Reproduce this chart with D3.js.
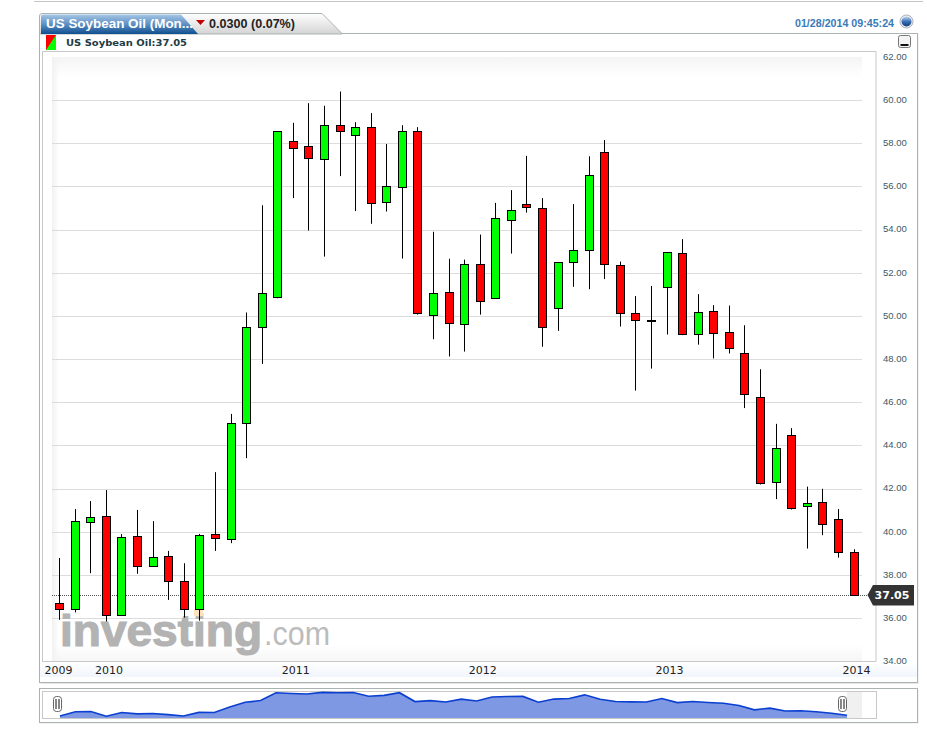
<!DOCTYPE html>
<html>
<head>
<meta charset="utf-8">
<title>US Soybean Oil (Monthly)</title>
<script src="https://d3js.org/d3.v7.min.js"></script>
<style>
    html, body { margin: 0; padding: 0; background: #fff; }
    svg { display: block; }
    text { font-family: "Liberation Sans", Arial, sans-serif; }
    .price text { font-size: 9.5px; fill: #3b5a66; }
    .dates text { font-family: "DejaVu Sans", sans-serif; font-size: 11px; fill: #222; }
    .grid line { stroke: #dcdcdc; }
</style>
</head>
<body>
<script>
// monthly candles, Oct 2009 - Jan 2014
const months = ["2009-10","2009-11","2009-12",
    "2010-01","2010-02","2010-03","2010-04","2010-05","2010-06","2010-07","2010-08","2010-09","2010-10","2010-11","2010-12",
    "2011-01","2011-02","2011-03","2011-04","2011-05","2011-06","2011-07","2011-08","2011-09","2011-10","2011-11","2011-12",
    "2012-01","2012-02","2012-03","2012-04","2012-05","2012-06","2012-07","2012-08","2012-09","2012-10","2012-11","2012-12",
    "2013-01","2013-02","2013-03","2013-04","2013-05","2013-06","2013-07","2013-08","2013-09","2013-10","2013-11","2013-12",
    "2014-01"];
const opens = [36.69,36.41,40.44,40.72,36.12,39.80,38.41,38.87,37.71,36.41,39.89,39.68,45.03,49.48,50.90,
    58.10,57.87,57.27,58.84,58.38,58.75,55.27,55.97,58.56,50.04,51.10,49.62,
    52.40,50.82,54.44,55.18,55.00,50.36,52.49,53.05,57.59,52.35,50.13,49.81,
    51.33,52.91,49.16,50.22,49.25,48.28,46.24,42.30,44.48,41.17,41.37,40.58,39.05];
const highs = [38.78,41.05,41.42,41.93,39.89,41.01,40.49,39.11,38.54,39.90,42.76,45.46,50.16,55.13,58.56,
    58.95,59.86,59.74,60.40,58.98,59.40,57.97,58.84,58.75,53.90,52.65,52.61,
    53.77,55.24,55.83,57.42,55.46,52.49,55.18,57.40,58.15,52.52,50.92,51.39,
    52.96,53.56,51.01,50.50,50.48,49.57,47.53,45.00,44.80,42.09,41.99,41.05,39.19];
const lows = [35.92,36.26,38.08,35.84,36.12,38.05,38.41,36.84,36.02,35.88,39.11,39.47,43.41,47.78,50.82,
    55.46,53.96,52.75,56.48,54.86,54.27,54.84,52.66,50.06,48.92,48.12,48.35,
    50.06,50.82,52.89,54.79,48.57,49.31,51.35,51.24,51.71,49.51,46.54,47.56,
    49.14,49.11,48.67,48.03,48.26,45.73,42.19,41.51,41.03,39.22,39.84,38.80,37.05];
const closes = [36.41,40.49,40.68,36.12,39.75,38.41,38.82,37.71,36.41,39.84,39.73,45.03,49.48,51.06,58.56,
    57.78,57.31,58.84,58.56,58.75,55.23,56.01,58.56,50.13,51.06,49.67,52.40,
    50.69,54.53,54.90,55.04,49.48,52.49,53.05,56.52,52.40,50.13,49.81,49.76,
    52.96,49.16,50.18,49.20,48.51,46.38,42.25,43.87,41.09,41.33,40.38,39.05,37.05];
const priceTicks = [34,36,38,40,42,44,46,48,50,52,54,56,58,60,62];
const gridTicks = [36,38,40,42,44,46,48,50,52,54,56,58,60];
const yearTicks = ["2009-10","2010-01","2011-01","2012-01","2013-01","2014-01"];
const yearLabels = ["2009","2010","2011","2012","2013","2014"];
const lastPrice = 37.05;

const upColor = "#00ff00", downColor = "#ff0000";

const svg = d3.select("body").append("svg").attr("width", 927).attr("height", 741);
const defs = svg.append("defs");

function gradient(id, x2, y2, stops) {
    const g = defs.append("linearGradient").attr("id", id)
        .attr("x1", 0).attr("y1", 0).attr("x2", x2).attr("y2", y2);
    stops.forEach(s => g.append("stop").attr("offset", s[0]).attr("stop-color", s[1]));
}
gradient("tabGrey", 0, 1, [[0, "#ffffff"], [1, "#d4d4d4"]]);
gradient("tabBlue", 0, 1, [[0, "#a5c5e4"], [0.5, "#5e90c4"], [1, "#0e4e8e"]]);
gradient("topFade", 0, 1, [[0, "#f4f4f4"], [1, "#ffffff"]]);
gradient("bottomFade", 0, 1, [[0, "#ffffff"], [1, "#f6f6f6"]]);
gradient("leftFade", 1, 0, [[0, "#f2f2f2"], [1, "rgba(242,242,242,0)"]]);
gradient("dateBand", 0, 1, [[0, "#ffffff"], [1, "#f1f5fc"]]);
gradient("globe", 0, 1, [[0, "#c4d8f0"], [0.5, "#3a72b8"], [1, "#123a78"]]);

// page rule and top bar
svg.append("line").attr("x1", 34).attr("x2", 923).attr("y1", 1.5).attr("y2", 1.5).attr("stroke", "#c4c4c4");

svg.append("rect").attr("x", 40.5).attr("y", 34.5).attr("width", 878).attr("height", 649.5)
    .attr("fill", "#e6e8e8");
svg.append("rect").attr("x", 39.5).attr("y", 33.5).attr("width", 878).attr("height", 649)
    .attr("fill", "#fff").attr("stroke", "#aab2b2");

// tab
svg.append("path").attr("d", "M39.5,34V16Q39.5,13.5 42,13.5H322L342,33.5V34Z")
    .attr("fill", "url(#tabGrey)").attr("stroke", "#aab2b2");
svg.append("path").attr("d", "M41,34V16Q41,14.5 43,14.5H181L198,34Z").attr("fill", "url(#tabBlue)");
svg.append("text").attr("x", 46).attr("y", 28).attr("fill", "#fff")
    .attr("font-size", 13).attr("font-weight", "bold").attr("textLength", 147).attr("lengthAdjust", "spacingAndGlyphs")
    .text("US Soybean Oil (Mon...");
svg.append("path").attr("d", "M196,20H205L200.5,25Z").attr("fill", "#c00000");
svg.append("text").attr("x", 209).attr("y", 28).attr("fill", "#222")
    .attr("font-size", 12.5).attr("font-weight", "bold").attr("textLength", 86).attr("lengthAdjust", "spacingAndGlyphs")
    .text("0.0300 (0.07%)");

svg.append("text").attr("x", 894).attr("y", 26.5).attr("text-anchor", "end").attr("fill", "#3a7ab8")
    .attr("font-size", 10.5).attr("font-weight", "bold").attr("textLength", 99).attr("lengthAdjust", "spacingAndGlyphs")
    .text("01/28/2014 09:45:24");
svg.append("circle").attr("cx", 906.5).attr("cy", 21.5).attr("r", 6.5).attr("fill", "#eef0f3").attr("stroke", "#a9b0ba");
svg.append("circle").attr("cx", 906.5).attr("cy", 21.5).attr("r", 5).attr("fill", "url(#globe)");

// minimise button
svg.append("rect").attr("x", 898.5).attr("y", 35.5).attr("width", 12).attr("height", 12).attr("rx", 2)
    .attr("fill", "#f4f4f4").attr("stroke", "#777");
svg.append("rect").attr("x", 900.5).attr("y", 44).attr("width", 8).attr("height", 2).attr("fill", "#111");

// legend
svg.append("rect").attr("x", 46).attr("y", 35).attr("width", 10).attr("height", 15).attr("fill", upColor);
svg.append("path").attr("d", "M46,35H56L46,50Z").attr("fill", downColor);
svg.append("text").attr("x", 66).attr("y", 46).attr("fill", "#1d3b44")
    .style("font-family", '"DejaVu Sans", sans-serif').attr("font-size", 9.5).attr("font-weight", "bold")
    .attr("textLength", 121).attr("lengthAdjust", "spacingAndGlyphs")
    .text("US Soybean Oil:37.05");

// date band and chart frame
svg.append("rect").attr("x", 40).attr("y", 662).attr("width", 877).attr("height", 15).attr("fill", "url(#dateBand)");
svg.append("path").attr("d", "M42.5,661.5V51.5H876V661.5H42.5").attr("fill", "#fff").attr("stroke", "#c8c8c8");

// scales
const x = d3.scalePoint().domain(months).range([59.7, 854]);
const y = d3.scaleLinear().domain([34, 62]).range([661.2, 57]);

// plot background
svg.append("rect").attr("x", 52).attr("y", 57).attr("width", 810).attr("height", 20).attr("fill", "url(#topFade)");
svg.append("rect").attr("x", 52).attr("y", 645).attr("width", 810).attr("height", 16).attr("fill", "url(#bottomFade)");
svg.append("rect").attr("x", 52).attr("y", 57).attr("width", 7).attr("height", 604).attr("fill", "url(#leftFade)");

// gridlines
svg.append("g").attr("class", "grid").selectAll("line").data(gridTicks).join("line")
    .attr("x1", 52).attr("x2", 862)
    .attr("y1", d => Math.round(y(d)) + 0.5).attr("y2", d => Math.round(y(d)) + 0.5);

// watermark, sits under the candles
svg.append("text").attr("x", 60).attr("y", 646).attr("fill", "#b3b3b3").attr("stroke", "#b3b3b3").attr("stroke-width", 1.2)
    .attr("font-size", 44).attr("font-weight", "bold").attr("textLength", 202).attr("lengthAdjust", "spacingAndGlyphs")
    .text("investing");
svg.append("text").attr("x", 264).attr("y", 645).attr("fill", "#bcbcbc")
    .attr("font-size", 33).attr("textLength", 66).attr("lengthAdjust", "spacingAndGlyphs")
    .text(".com");

// last price dotted line
svg.append("line").attr("x1", 52).attr("x2", 868)
    .attr("y1", Math.round(y(lastPrice)) + 0.5).attr("y2", Math.round(y(lastPrice)) + 0.5)
    .attr("stroke", "#555").attr("stroke-dasharray", "1,1");

// pale smudge under the Jul 2010 candle in the original screenshot
const cx = i => Math.floor(x(months[i]));
svg.append("rect").attr("x", cx(9) - 5).attr("y", y(36.41)).attr("width", 9).attr("height", 7).attr("fill", "#fde3c0");

// candles
const candles = svg.append("g").selectAll("g").data(months).join("g");
candles.append("line")
    .attr("x1", (d, i) => cx(i) + 0.5).attr("x2", (d, i) => cx(i) + 0.5)
    .attr("y1", (d, i) => y(highs[i])).attr("y2", (d, i) => y(lows[i]))
    .attr("stroke", "#000");
candles.append("rect")
    .attr("x", (d, i) => cx(i) - 3.5).attr("width", 8)
    .attr("y", (d, i) => Math.round(y(Math.max(opens[i], closes[i]))) + 0.5)
    .attr("height", (d, i) => Math.max(1, Math.round(y(Math.min(opens[i], closes[i]))) - Math.round(y(Math.max(opens[i], closes[i])))))
    .attr("fill", (d, i) => closes[i] >= opens[i] ? upColor : downColor)
    .attr("stroke", "#000");

// price axis
const priceAxis = d3.axisRight(y).tickValues(priceTicks).tickFormat(d3.format(".2f")).tickSize(0).tickPadding(0);
svg.append("g").attr("class", "price").attr("transform", "translate(883,-0.7)").call(priceAxis)
    .call(g => g.select(".domain").remove());

// last price tag
const tagY = Math.round(y(lastPrice));
svg.append("path")
    .attr("d", d3.line()([[867.5, tagY], [873, tagY - 10], [914, tagY - 10], [914, tagY + 10.5], [873, tagY + 10.5]]) + "Z")
    .attr("fill", "#333");
svg.append("text").attr("x", 892).attr("y", tagY + 4).attr("text-anchor", "middle").attr("fill", "#fff")
    .attr("font-size", 11).attr("font-weight", "bold").style("font-family", '"DejaVu Sans", sans-serif')
    .text(lastPrice.toFixed(2));

// year labels
const dateAxis = d3.axisBottom(x).tickValues(yearTicks).tickFormat((d, i) => yearLabels[i]).tickSize(0).tickPadding(0);
svg.append("g").attr("class", "dates").attr("transform", "translate(2,666)").call(dateAxis)
    .call(g => g.select(".domain").remove())
    .call(g => g.select(".tick text").attr("dx", -3.7));

// overview strip
svg.append("rect").attr("x", 40.5).attr("y", 690).attr("width", 878).attr("height", 33.5).attr("fill", "#e6e8e8");
svg.append("rect").attr("x", 39.5).attr("y", 688.5).attr("width", 878).attr("height", 34)
    .attr("fill", "#fff").attr("stroke", "#aab2b2");
svg.append("rect").attr("x", 42.5).attr("y", 691.5).attr("width", 834).attr("height", 27)
    .attr("fill", "#fff").attr("stroke", "#c8c8c8");
svg.append("rect").attr("x", 847).attr("y", 692).attr("width", 15).attr("height", 26).attr("fill", "#f0f0f0");

const ox = d3.scalePoint().domain(months).range([60, 847]);
const oy = d3.scaleLinear().domain([34, 60]).range([718.5, 691.2]);
svg.append("path")
    .attr("d", d3.area().x((d, i) => ox(months[i])).y0(718).y1(d => oy(d))(closes))
    .attr("fill", "#7f98e4");
svg.append("path")
    .attr("d", d3.line().x((d, i) => ox(months[i])).y(d => oy(d))(closes))
    .attr("fill", "none").attr("stroke", "#0a3fd0").attr("stroke-width", 1.6);

[57.5, 842.5].forEach(hx => {
    svg.append("rect").attr("x", hx - 4).attr("y", 696.5).attr("width", 8).attr("height", 15).attr("rx", 3)
        .attr("fill", "#fff").attr("stroke", "#666");
    svg.append("rect").attr("x", hx - 2).attr("y", 699).attr("width", 1).attr("height", 10).attr("fill", "#111");
    svg.append("rect").attr("x", hx + 1).attr("y", 699).attr("width", 1).attr("height", 10).attr("fill", "#111");
});
</script>
</body>
</html>
